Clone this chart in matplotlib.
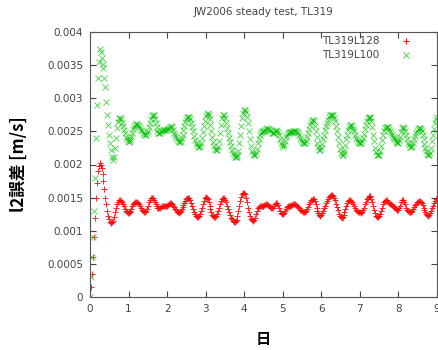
import matplotlib
matplotlib.use("Agg")
import matplotlib.pyplot as plt
import numpy as np

plt.rcParams['font.family'] = ['DejaVu Sans', 'Noto Sans CJK JP']

# time axis in days, 0.025 day step
days = np.round(np.arange(0, 9.0001, 0.025), 3)

# TL319L128 (red), units of 1e-3 m/s, one row per day
l128 = [
    0, 0.15, 0.35, 0.6, 0.9, 1.2, 1.5, 1.72, 1.9, 1.98, 2.02, 2.0, 1.95, 1.86, 1.75, 1.63, 1.5, 1.4, 1.3, 1.22,
    1.17, 1.13, 1.12, 1.13, 1.15, 1.21, 1.28, 1.35, 1.4, 1.44, 1.46, 1.46, 1.45, 1.43, 1.4, 1.37, 1.33, 1.3, 1.28, 1.27,
    1.27, 1.28, 1.3, 1.33, 1.37, 1.4, 1.42, 1.44, 1.44, 1.43, 1.42, 1.4, 1.37, 1.34, 1.32, 1.3, 1.29, 1.29, 1.3, 1.33,
    1.38, 1.43, 1.47, 1.49, 1.5, 1.49, 1.47, 1.44, 1.4, 1.37, 1.35, 1.34, 1.34, 1.35, 1.36, 1.37, 1.38, 1.38, 1.38, 1.38,
    1.38, 1.39, 1.4, 1.42, 1.42, 1.4, 1.38, 1.36, 1.33, 1.31, 1.29, 1.28, 1.27, 1.28, 1.3, 1.33, 1.36, 1.39, 1.42, 1.45,
    1.48, 1.5, 1.5, 1.49, 1.46, 1.42, 1.38, 1.33, 1.28, 1.25, 1.22, 1.21, 1.21, 1.22, 1.25, 1.3, 1.35, 1.4, 1.45, 1.49,
    1.51, 1.5, 1.48, 1.44, 1.38, 1.33, 1.28, 1.24, 1.22, 1.21, 1.21, 1.22, 1.25, 1.3, 1.35, 1.4, 1.45, 1.48, 1.5, 1.49,
    1.47, 1.43, 1.38, 1.33, 1.28, 1.24, 1.2, 1.17, 1.15, 1.13, 1.13, 1.14, 1.16, 1.22, 1.3, 1.38, 1.45, 1.51, 1.55, 1.57,
    1.57, 1.55, 1.5, 1.43, 1.35, 1.28, 1.22, 1.18, 1.16, 1.15, 1.16, 1.2, 1.25, 1.3, 1.34, 1.36, 1.37, 1.38, 1.38, 1.38,
    1.38, 1.39, 1.39, 1.4, 1.4, 1.39, 1.38, 1.36, 1.35, 1.35, 1.35, 1.37, 1.4, 1.42, 1.42, 1.39, 1.35, 1.3, 1.27, 1.25,
    1.25, 1.27, 1.3, 1.33, 1.36, 1.37, 1.38, 1.38, 1.38, 1.39, 1.39, 1.4, 1.4, 1.4, 1.39, 1.38, 1.36, 1.34, 1.32, 1.31,
    1.3, 1.29, 1.29, 1.29, 1.3, 1.33, 1.36, 1.4, 1.43, 1.46, 1.47, 1.48, 1.48, 1.45, 1.4, 1.35, 1.3, 1.27, 1.24, 1.23,
    1.24, 1.27, 1.3, 1.34, 1.38, 1.42, 1.45, 1.48, 1.51, 1.53, 1.54, 1.54, 1.53, 1.5, 1.46, 1.41, 1.36, 1.31, 1.26, 1.23,
    1.21, 1.2, 1.21, 1.24, 1.28, 1.33, 1.38, 1.42, 1.45, 1.46, 1.46, 1.45, 1.44, 1.41, 1.38, 1.35, 1.32, 1.3, 1.28, 1.28,
    1.28, 1.27, 1.28, 1.31, 1.35, 1.4, 1.44, 1.48, 1.5, 1.52, 1.52, 1.51, 1.48, 1.43, 1.38, 1.32, 1.27, 1.23, 1.21, 1.21,
    1.22, 1.25, 1.3, 1.35, 1.4, 1.43, 1.45, 1.46, 1.46, 1.44, 1.42, 1.41, 1.4, 1.39, 1.38, 1.36, 1.35, 1.33, 1.32, 1.31,
    1.31, 1.34, 1.38, 1.43, 1.46, 1.46, 1.44, 1.4, 1.35, 1.32, 1.3, 1.29, 1.28, 1.29, 1.3, 1.33, 1.36, 1.39, 1.41, 1.43,
    1.44, 1.45, 1.45, 1.44, 1.42, 1.39, 1.35, 1.31, 1.28, 1.26, 1.24, 1.23, 1.24, 1.27, 1.3, 1.34, 1.38, 1.42, 1.45, 1.48,
    1.5,
]

# TL319L100 (green)
l100 = [
    0, 0.3, 0.6, 0.9, 1.3, 1.8, 2.4, 2.9, 3.3, 3.55, 3.75, 3.7, 3.6, 3.52, 3.45, 3.3, 3.17, 2.95, 2.75, 2.6,
    2.45, 2.32, 2.22, 2.12, 2.07, 2.12, 2.25, 2.4, 2.55, 2.64, 2.7, 2.7, 2.68, 2.63, 2.58, 2.52, 2.47, 2.42, 2.38, 2.35,
    2.34, 2.35, 2.38, 2.43, 2.48, 2.53, 2.57, 2.6, 2.61, 2.61, 2.6, 2.58, 2.55, 2.52, 2.5, 2.48, 2.46, 2.45, 2.45, 2.47,
    2.5, 2.56, 2.62, 2.68, 2.73, 2.75, 2.74, 2.69, 2.62, 2.56, 2.5, 2.48, 2.47, 2.48, 2.5, 2.51, 2.52, 2.52, 2.52, 2.52,
    2.53, 2.54, 2.55, 2.57, 2.58, 2.56, 2.52, 2.48, 2.45, 2.41, 2.38, 2.35, 2.34, 2.34, 2.36, 2.4, 2.45, 2.52, 2.58, 2.64,
    2.68, 2.71, 2.72, 2.71, 2.68, 2.63, 2.57, 2.5, 2.43, 2.37, 2.32, 2.29, 2.27, 2.27, 2.28, 2.33, 2.4, 2.49, 2.58, 2.66,
    2.73, 2.76, 2.77, 2.74, 2.68, 2.6, 2.5, 2.42, 2.34, 2.28, 2.24, 2.22, 2.22, 2.27, 2.35, 2.47, 2.6, 2.7, 2.75, 2.74,
    2.7, 2.63, 2.55, 2.47, 2.4, 2.34, 2.28, 2.22, 2.17, 2.14, 2.12, 2.11, 2.11, 2.14, 2.2, 2.32, 2.45, 2.58, 2.7, 2.78,
    2.82, 2.82, 2.8, 2.72, 2.62, 2.5, 2.38, 2.28, 2.2, 2.16, 2.14, 2.15, 2.18, 2.24, 2.32, 2.39, 2.45, 2.48, 2.49, 2.5,
    2.5, 2.51, 2.52, 2.54, 2.55, 2.54, 2.53, 2.52, 2.5, 2.48, 2.47, 2.48, 2.5, 2.51, 2.52, 2.49, 2.45, 2.39, 2.33, 2.29,
    2.27, 2.3, 2.35, 2.41, 2.45, 2.47, 2.48, 2.49, 2.49, 2.49, 2.49, 2.5, 2.5, 2.5, 2.5, 2.49, 2.47, 2.44, 2.4, 2.37,
    2.34, 2.33, 2.32, 2.33, 2.36, 2.42, 2.48, 2.54, 2.6, 2.64, 2.67, 2.67, 2.65, 2.58, 2.5, 2.41, 2.33, 2.27, 2.22, 2.22,
    2.25, 2.31, 2.38, 2.45, 2.52, 2.58, 2.63, 2.67, 2.71, 2.74, 2.75, 2.75, 2.74, 2.7, 2.65, 2.58, 2.5, 2.41, 2.32, 2.24,
    2.18, 2.15, 2.14, 2.17, 2.22, 2.3, 2.38, 2.45, 2.52, 2.57, 2.6, 2.6, 2.58, 2.54, 2.5, 2.45, 2.4, 2.37, 2.34, 2.33,
    2.32, 2.33, 2.36, 2.4, 2.46, 2.53, 2.6, 2.66, 2.7, 2.72, 2.72, 2.7, 2.65, 2.56, 2.45, 2.35, 2.25, 2.19, 2.15, 2.14,
    2.14, 2.2, 2.28, 2.37, 2.45, 2.51, 2.55, 2.57, 2.57, 2.56, 2.53, 2.5, 2.47, 2.44, 2.42, 2.4, 2.38, 2.36, 2.34, 2.33,
    2.33, 2.37, 2.42, 2.49, 2.55, 2.57, 2.55, 2.5, 2.45, 2.39, 2.33, 2.29, 2.27, 2.27, 2.28, 2.32, 2.38, 2.43, 2.48, 2.51,
    2.54, 2.55, 2.55, 2.53, 2.5, 2.44, 2.38, 2.31, 2.25, 2.2, 2.16, 2.14, 2.14, 2.18, 2.25, 2.35, 2.45, 2.54, 2.62, 2.68,
    2.72,
]

yticks = [0, 0.0005, 0.001, 0.0015, 0.002, 0.0025, 0.003, 0.0035, 0.004]
ytick_labels = ['0', '0.0005', '0.001', '0.0015', '0.002', '0.0025', '0.003', '0.0035', '0.004']

gray = '#444444'

fig = plt.figure(figsize=(4.39, 3.5), dpi=100)
ax = fig.add_axes([90 / 439, 1 - 297 / 350, 347 / 439, 265 / 350])

ax.plot(days, np.array(l128) * 1e-3, ls='none', marker='+', ms=5, mew=0.7,
        color='#ff0000', alpha=0.85, label='TL319L128')
ax.plot(days, np.array(l100) * 1e-3, ls='none', marker='x', ms=4.5, mew=0.7,
        color='#00c000', alpha=0.65, label='TL319L100')

ax.set_xlim(0, 9)
ax.set_ylim(0, 0.004)
ax.set_xticks(range(10))
ax.set_yticks(yticks)
ax.set_yticklabels(ytick_labels)
ax.tick_params(direction='in', top=True, right=True, length=4, width=0.8,
               labelsize=7.5, labelcolor=gray, color=gray, pad=5)
for s in ax.spines.values():
    s.set_color('#555555')
    s.set_linewidth(0.8)

ax.set_title('JW2006 steady test, TL319', fontsize=7.5, color=gray, pad=12)
ax.set_ylabel('l2誤差 [m/s]', fontsize=12, fontweight='bold', labelpad=14,
              family=['Noto Sans CJK JP', 'DejaVu Sans'])
ax.set_xlabel('日', fontsize=11, fontweight='bold', labelpad=12,
              family=['Noto Sans CJK JP', 'DejaVu Sans'])

leg = ax.legend(loc='upper right', bbox_to_anchor=(0.945, 1.0), markerfirst=False,
                frameon=False, fontsize=7.5, handlelength=1.5, handletextpad=1.8,
                borderaxespad=0.2, labelspacing=0.4, borderpad=0.2)
for t in leg.get_texts():
    t.set_color(gray)
for h in leg.legend_handles:
    h.set_alpha(1.0 if h.get_label() == 'TL319L128' else 0.7)

fig.savefig('out.png', dpi=100)
